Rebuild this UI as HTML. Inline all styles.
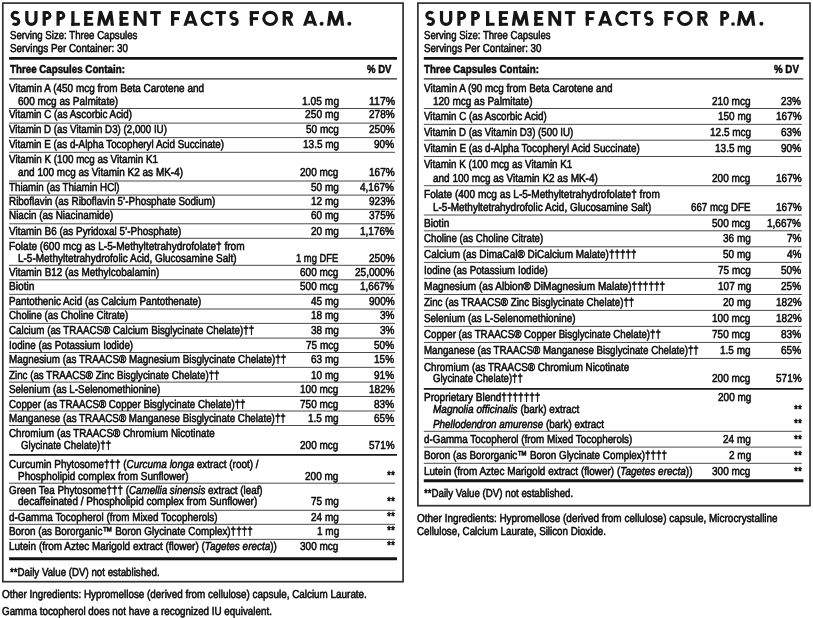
<!DOCTYPE html>
<html lang="en"><head><meta charset="utf-8"><title>Supplement Facts</title>
<style>
html,body{margin:0;padding:0;background:#fff;}
body{width:813px;height:618px;position:relative;overflow:hidden;font-family:"Liberation Sans",sans-serif;color:#0a0a0a;text-rendering:geometricPrecision;filter:grayscale(1);}
svg{position:absolute;left:0;top:0;}
span{position:absolute;white-space:nowrap;line-height:1;display:block;transform-origin:0 0;}
.n,.a{font-size:11.5px;-webkit-text-stroke:0.55px #0a0a0a;}
.b{font-size:11.5px;font-weight:bold;-webkit-text-stroke:0.5px #0a0a0a;}
.t{font-size:20.3px;font-weight:bold;color:#181818;-webkit-text-stroke:0.6px #181818;}
i{font-style:italic;}
</style></head><body>
<svg width="813" height="618" viewBox="0 0 813 618">
<rect x="2.8" y="3.1" width="400.30" height="578.60" fill="none" stroke="#303030" stroke-width="1.7"/>
<rect x="417.9" y="3.1" width="392.10" height="502.60" fill="none" stroke="#303030" stroke-width="1.7"/>
<line x1="9.1" y1="58.45" x2="397.0" y2="58.45" stroke="#0e1612" stroke-width="2.75"/>
<line x1="9.1" y1="78.8" x2="397.0" y2="78.8" stroke="#222" stroke-width="1.3"/>
<line x1="9.1" y1="108.5" x2="395.1" y2="108.5" stroke="#4a4a4a" stroke-width="1.0"/>
<line x1="9.1" y1="123.1" x2="395.1" y2="123.1" stroke="#4a4a4a" stroke-width="1.0"/>
<line x1="9.1" y1="137.6" x2="395.1" y2="137.6" stroke="#4a4a4a" stroke-width="1.0"/>
<line x1="9.1" y1="152.3" x2="395.1" y2="152.3" stroke="#4a4a4a" stroke-width="1.0"/>
<line x1="9.1" y1="181.0" x2="395.1" y2="181.0" stroke="#4a4a4a" stroke-width="1.0"/>
<line x1="9.1" y1="195.1" x2="395.1" y2="195.1" stroke="#4a4a4a" stroke-width="1.0"/>
<line x1="9.1" y1="209.3" x2="395.1" y2="209.3" stroke="#4a4a4a" stroke-width="1.0"/>
<line x1="9.1" y1="223.8" x2="395.1" y2="223.8" stroke="#4a4a4a" stroke-width="1.0"/>
<line x1="9.1" y1="238.3" x2="395.1" y2="238.3" stroke="#4a4a4a" stroke-width="1.0"/>
<line x1="9.1" y1="265.3" x2="395.1" y2="265.3" stroke="#4a4a4a" stroke-width="1.0"/>
<line x1="9.1" y1="279.8" x2="395.1" y2="279.8" stroke="#4a4a4a" stroke-width="1.0"/>
<line x1="9.1" y1="294.3" x2="395.1" y2="294.3" stroke="#4a4a4a" stroke-width="1.0"/>
<line x1="9.1" y1="309.0" x2="395.1" y2="309.0" stroke="#4a4a4a" stroke-width="1.0"/>
<line x1="9.1" y1="323.4" x2="395.1" y2="323.4" stroke="#4a4a4a" stroke-width="1.0"/>
<line x1="9.1" y1="338.1" x2="395.1" y2="338.1" stroke="#4a4a4a" stroke-width="1.0"/>
<line x1="9.1" y1="352.5" x2="395.1" y2="352.5" stroke="#4a4a4a" stroke-width="1.0"/>
<line x1="9.1" y1="367.35" x2="395.1" y2="367.35" stroke="#4a4a4a" stroke-width="1.0"/>
<line x1="9.1" y1="382.1" x2="395.1" y2="382.1" stroke="#4a4a4a" stroke-width="1.0"/>
<line x1="9.1" y1="396.5" x2="395.1" y2="396.5" stroke="#4a4a4a" stroke-width="1.0"/>
<line x1="9.1" y1="411.0" x2="395.1" y2="411.0" stroke="#4a4a4a" stroke-width="1.0"/>
<line x1="9.1" y1="425.5" x2="395.1" y2="425.5" stroke="#4a4a4a" stroke-width="1.0"/>
<line x1="9.1" y1="454.8" x2="397.0" y2="454.8" stroke="#1a1a1a" stroke-width="1.7"/>
<line x1="9.1" y1="483.2" x2="395.1" y2="483.2" stroke="#4a4a4a" stroke-width="1.0"/>
<line x1="9.1" y1="510.3" x2="395.1" y2="510.3" stroke="#4a4a4a" stroke-width="1.0"/>
<line x1="9.1" y1="524.3" x2="395.1" y2="524.3" stroke="#4a4a4a" stroke-width="1.0"/>
<line x1="9.1" y1="539.35" x2="395.1" y2="539.35" stroke="#4a4a4a" stroke-width="1.0"/>
<line x1="9.1" y1="558.7" x2="397.0" y2="558.7" stroke="#0e1612" stroke-width="3.0"/>
<line x1="423.8" y1="58.45" x2="803.4" y2="58.45" stroke="#0e1612" stroke-width="2.75"/>
<line x1="423.8" y1="78.8" x2="803.4" y2="78.8" stroke="#222" stroke-width="1.3"/>
<line x1="423.8" y1="108.5" x2="801.8" y2="108.5" stroke="#4a4a4a" stroke-width="1.0"/>
<line x1="423.8" y1="124.35" x2="801.8" y2="124.35" stroke="#4a4a4a" stroke-width="1.0"/>
<line x1="423.8" y1="140.2" x2="801.8" y2="140.2" stroke="#4a4a4a" stroke-width="1.0"/>
<line x1="423.8" y1="156.5" x2="801.8" y2="156.5" stroke="#4a4a4a" stroke-width="1.0"/>
<line x1="423.8" y1="185.7" x2="801.8" y2="185.7" stroke="#4a4a4a" stroke-width="1.0"/>
<line x1="423.8" y1="215.0" x2="801.8" y2="215.0" stroke="#4a4a4a" stroke-width="1.0"/>
<line x1="423.8" y1="230.8" x2="801.8" y2="230.8" stroke="#4a4a4a" stroke-width="1.0"/>
<line x1="423.8" y1="246.8" x2="801.8" y2="246.8" stroke="#4a4a4a" stroke-width="1.0"/>
<line x1="423.8" y1="262.4" x2="801.8" y2="262.4" stroke="#4a4a4a" stroke-width="1.0"/>
<line x1="423.8" y1="278.4" x2="801.8" y2="278.4" stroke="#4a4a4a" stroke-width="1.0"/>
<line x1="423.8" y1="294.5" x2="801.8" y2="294.5" stroke="#4a4a4a" stroke-width="1.0"/>
<line x1="423.8" y1="310.4" x2="801.8" y2="310.4" stroke="#4a4a4a" stroke-width="1.0"/>
<line x1="423.8" y1="326.4" x2="801.8" y2="326.4" stroke="#4a4a4a" stroke-width="1.0"/>
<line x1="423.8" y1="342.45" x2="801.8" y2="342.45" stroke="#4a4a4a" stroke-width="1.0"/>
<line x1="423.8" y1="358.45" x2="801.8" y2="358.45" stroke="#4a4a4a" stroke-width="1.0"/>
<line x1="423.8" y1="388.9" x2="803.4" y2="388.9" stroke="#1a1a1a" stroke-width="1.7"/>
<line x1="423.8" y1="431.3" x2="801.8" y2="431.3" stroke="#4a4a4a" stroke-width="1.0"/>
<line x1="423.8" y1="447.1" x2="801.8" y2="447.1" stroke="#4a4a4a" stroke-width="1.0"/>
<line x1="423.8" y1="463.3" x2="801.8" y2="463.3" stroke="#4a4a4a" stroke-width="1.0"/>
<line x1="423.8" y1="480.75" x2="803.4" y2="480.75" stroke="#0e1612" stroke-width="3.0"/>
<clipPath id="tc"><rect x="0" y="11.10" width="813" height="14.65"/></clipPath>
<g fill="#161616">
<path d="M18.25,13.50 A3.43,3.05 0 0 0 15.55,12.32 A3.43,3.05 0 0 0 15.55,18.43 A3.43,3.05 0 0 1 15.55,24.52 A3.43,3.05 0 0 1 12.85,23.35" fill="none" stroke="#161616" stroke-width="3.10" stroke-linejoin="round" stroke-miterlimit="12"/>
<path d="M26.82,11.10 V19.80 A4.58,4.58 0 0 0 35.98,19.80 V11.10" fill="none" stroke="#161616" stroke-width="3.25" stroke-linejoin="miter" stroke-miterlimit="12"/>
<rect x="42.60" y="11.10" width="3.25" height="14.65"/><path d="M44.23,12.57 H47.10 A2.92,2.92 0 0 1 47.10,18.41 H44.23" fill="none" stroke="#161616" stroke-width="2.95" stroke-linejoin="miter" stroke-miterlimit="12"/>
<rect x="56.50" y="11.10" width="3.25" height="14.65"/><path d="M58.12,12.57 H60.90 A2.92,2.92 0 0 1 60.90,18.41 H58.12" fill="none" stroke="#161616" stroke-width="2.95" stroke-linejoin="miter" stroke-miterlimit="12"/>
<rect x="71.30" y="11.10" width="3.25" height="14.65"/><rect x="71.30" y="22.80" width="8.60" height="2.95"/>
<rect x="84.20" y="11.10" width="3.25" height="14.65"/><rect x="84.20" y="11.10" width="9.10" height="2.95"/><rect x="84.20" y="22.80" width="9.10" height="2.95"/><rect x="84.20" y="16.95" width="8.20" height="2.95"/>
<path d="M98.62,26.75 L100.53,11.70 L105.60,25.45 L110.67,11.70 L112.58,26.75" fill="none" stroke="#161616" stroke-width="3.25" stroke-linejoin="miter" stroke-miterlimit="12" clip-path="url(#tc)"/>
<rect x="119.60" y="11.10" width="3.25" height="14.65"/><rect x="119.60" y="11.10" width="9.00" height="2.95"/><rect x="119.60" y="22.80" width="9.00" height="2.95"/><rect x="119.60" y="16.95" width="8.10" height="2.95"/>
<rect x="133.70" y="11.10" width="3.25" height="14.65"/><rect x="143.25" y="11.10" width="3.25" height="14.65"/><path d="M133.70,11.10 L137.40,11.10 L146.50,25.75 L142.80,25.75 Z"/>
<rect x="150.20" y="11.10" width="10.60" height="2.95"/><rect x="153.88" y="11.10" width="3.25" height="14.65"/>
<rect x="171.00" y="11.10" width="3.25" height="14.65"/><rect x="171.00" y="11.10" width="9.00" height="2.95"/><rect x="171.00" y="17.15" width="8.00" height="2.95"/>
<path d="M184.65,26.95 L190.50,10.50 L196.35,26.95" fill="none" stroke="#161616" stroke-width="3.25" stroke-linejoin="miter" stroke-miterlimit="12" clip-path="url(#tc)"/><rect x="186.76" y="20.77" width="7.49" height="2.80"/>
<path d="M212.60,14.28 A6.10,6.10 0 1 0 212.60,22.57" fill="none" stroke="#161616" stroke-width="3.10" stroke-linejoin="miter" stroke-miterlimit="12"/>
<rect x="215.40" y="11.10" width="10.50" height="2.95"/><rect x="219.03" y="11.10" width="3.25" height="14.65"/>
<path d="M236.68,13.50 A3.28,3.05 0 0 0 234.10,12.32 A3.28,3.05 0 0 0 234.10,18.43 A3.28,3.05 0 0 1 234.10,24.52 A3.28,3.05 0 0 1 231.52,23.35" fill="none" stroke="#161616" stroke-width="3.10" stroke-linejoin="round" stroke-miterlimit="12"/>
<rect x="249.80" y="11.10" width="3.25" height="14.65"/><rect x="249.80" y="11.10" width="9.20" height="2.95"/><rect x="249.80" y="17.15" width="8.20" height="2.95"/>
<ellipse cx="270.20" cy="18.43" rx="6.38" ry="6.10" fill="none" stroke="#161616" stroke-width="3.10"/>
<rect x="282.65" y="11.10" width="3.25" height="14.65"/><path d="M284.27,12.57 H288.86 A2.66,2.66 0 0 1 288.86,17.90 H284.27" fill="none" stroke="#161616" stroke-width="2.95" stroke-linejoin="miter" stroke-miterlimit="12"/><path d="M287.66,17.30 L292.40,26.95" fill="none" stroke="#161616" stroke-width="3.25" stroke-linejoin="miter" stroke-miterlimit="12" clip-path="url(#tc)"/>
<path d="M304.25,26.95 L310.10,10.50 L315.95,26.95" fill="none" stroke="#161616" stroke-width="3.25" stroke-linejoin="miter" stroke-miterlimit="12" clip-path="url(#tc)"/><rect x="306.36" y="20.77" width="7.49" height="2.80"/>
<circle cx="321.60" cy="23.85" r="2.00"/>
<path d="M328.53,26.75 L330.43,11.70 L335.60,25.45 L340.78,11.70 L342.68,26.75" fill="none" stroke="#161616" stroke-width="3.25" stroke-linejoin="miter" stroke-miterlimit="12" clip-path="url(#tc)"/>
<circle cx="349.30" cy="23.85" r="2.00"/>
<path d="M432.95,13.50 A3.43,3.05 0 0 0 430.25,12.32 A3.43,3.05 0 0 0 430.25,18.43 A3.43,3.05 0 0 1 430.25,24.52 A3.43,3.05 0 0 1 427.55,23.35" fill="none" stroke="#161616" stroke-width="3.10" stroke-linejoin="round" stroke-miterlimit="12"/>
<path d="M441.52,11.10 V19.80 A4.58,4.58 0 0 0 450.68,19.80 V11.10" fill="none" stroke="#161616" stroke-width="3.25" stroke-linejoin="miter" stroke-miterlimit="12"/>
<rect x="457.30" y="11.10" width="3.25" height="14.65"/><path d="M458.93,12.57 H461.80 A2.92,2.92 0 0 1 461.80,18.41 H458.93" fill="none" stroke="#161616" stroke-width="2.95" stroke-linejoin="miter" stroke-miterlimit="12"/>
<rect x="471.20" y="11.10" width="3.25" height="14.65"/><path d="M472.82,12.57 H475.60 A2.92,2.92 0 0 1 475.60,18.41 H472.82" fill="none" stroke="#161616" stroke-width="2.95" stroke-linejoin="miter" stroke-miterlimit="12"/>
<rect x="486.00" y="11.10" width="3.25" height="14.65"/><rect x="486.00" y="22.80" width="8.60" height="2.95"/>
<rect x="498.90" y="11.10" width="3.25" height="14.65"/><rect x="498.90" y="11.10" width="9.10" height="2.95"/><rect x="498.90" y="22.80" width="9.10" height="2.95"/><rect x="498.90" y="16.95" width="8.20" height="2.95"/>
<path d="M513.32,26.75 L515.23,11.70 L520.30,25.45 L525.38,11.70 L527.28,26.75" fill="none" stroke="#161616" stroke-width="3.25" stroke-linejoin="miter" stroke-miterlimit="12" clip-path="url(#tc)"/>
<rect x="534.30" y="11.10" width="3.25" height="14.65"/><rect x="534.30" y="11.10" width="9.00" height="2.95"/><rect x="534.30" y="22.80" width="9.00" height="2.95"/><rect x="534.30" y="16.95" width="8.10" height="2.95"/>
<rect x="548.40" y="11.10" width="3.25" height="14.65"/><rect x="557.95" y="11.10" width="3.25" height="14.65"/><path d="M548.40,11.10 L552.10,11.10 L561.20,25.75 L557.50,25.75 Z"/>
<rect x="564.90" y="11.10" width="10.60" height="2.95"/><rect x="568.58" y="11.10" width="3.25" height="14.65"/>
<rect x="585.70" y="11.10" width="3.25" height="14.65"/><rect x="585.70" y="11.10" width="9.00" height="2.95"/><rect x="585.70" y="17.15" width="8.00" height="2.95"/>
<path d="M599.35,26.95 L605.20,10.50 L611.05,26.95" fill="none" stroke="#161616" stroke-width="3.25" stroke-linejoin="miter" stroke-miterlimit="12" clip-path="url(#tc)"/><rect x="601.46" y="20.77" width="7.49" height="2.80"/>
<path d="M627.30,14.28 A6.10,6.10 0 1 0 627.30,22.57" fill="none" stroke="#161616" stroke-width="3.10" stroke-linejoin="miter" stroke-miterlimit="12"/>
<rect x="630.10" y="11.10" width="10.50" height="2.95"/><rect x="633.73" y="11.10" width="3.25" height="14.65"/>
<path d="M651.38,13.50 A3.28,3.05 0 0 0 648.80,12.32 A3.28,3.05 0 0 0 648.80,18.43 A3.28,3.05 0 0 1 648.80,24.52 A3.28,3.05 0 0 1 646.22,23.35" fill="none" stroke="#161616" stroke-width="3.10" stroke-linejoin="round" stroke-miterlimit="12"/>
<rect x="664.50" y="11.10" width="3.25" height="14.65"/><rect x="664.50" y="11.10" width="9.20" height="2.95"/><rect x="664.50" y="17.15" width="8.20" height="2.95"/>
<ellipse cx="684.90" cy="18.43" rx="6.38" ry="6.10" fill="none" stroke="#161616" stroke-width="3.10"/>
<rect x="697.35" y="11.10" width="3.25" height="14.65"/><path d="M698.97,12.57 H703.56 A2.66,2.66 0 0 1 703.56,17.90 H698.97" fill="none" stroke="#161616" stroke-width="2.95" stroke-linejoin="miter" stroke-miterlimit="12"/><path d="M702.36,17.30 L707.10,26.95" fill="none" stroke="#161616" stroke-width="3.25" stroke-linejoin="miter" stroke-miterlimit="12" clip-path="url(#tc)"/>
<rect x="720.30" y="11.10" width="3.25" height="14.65"/><path d="M721.92,12.57 H724.90 A2.92,2.92 0 0 1 724.90,18.41 H721.92" fill="none" stroke="#161616" stroke-width="2.95" stroke-linejoin="miter" stroke-miterlimit="12"/>
<circle cx="733.05" cy="24.00" r="1.85"/>
<path d="M738.52,26.75 L740.43,11.70 L746.15,25.45 L751.88,11.70 L753.78,26.75" fill="none" stroke="#161616" stroke-width="3.25" stroke-linejoin="miter" stroke-miterlimit="12" clip-path="url(#tc)"/>
<circle cx="761.40" cy="23.85" r="2.00"/>
</g>
</svg>
<span class="n" style="top:31px;left:9.60px;transform:scaleX(0.8382);">Serving Size: Three Capsules</span>
<span class="n" style="top:44px;left:9.60px;transform:scaleX(0.8543);">Servings Per Container: 30</span>
<span class="b" style="top:65px;left:9.50px;transform:scaleX(0.8481);">Three Capsules Contain:</span>
<span class="b" style="top:65px;left:367.20px;transform:scaleX(0.8300);">% DV</span>
<span class="n" style="top:84px;left:9.00px;transform:scaleX(0.8676);">Vitamin A (450 mcg from Beta Carotene and</span>
<span class="n" style="top:97px;left:17.70px;transform:scaleX(0.8754);">600 mcg as Palmitate)</span>
<span class="a" style="top:97px;left:301.80px;transform:scaleX(0.8927);">1.05 mg</span>
<span class="a" style="top:97px;left:368.70px;transform:scaleX(0.9143);">117%</span>
<span class="n" style="top:110px;left:9.00px;transform:scaleX(0.8524);">Vitamin C (as Ascorbic Acid)</span>
<span class="a" style="top:110px;left:304.60px;transform:scaleX(0.8895);">250 mg</span>
<span class="a" style="top:110px;left:369.06px;transform:scaleX(0.8704);">278%</span>
<span class="n" style="top:125px;left:9.00px;transform:scaleX(0.8481);">Vitamin D (as Vitamin D3) (2,000 IU)</span>
<span class="a" style="top:125px;left:306.20px;transform:scaleX(0.8704);">50 mcg</span>
<span class="a" style="top:125px;left:369.06px;transform:scaleX(0.8704);">250%</span>
<span class="n" style="top:140px;left:9.00px;transform:scaleX(0.8532);">Vitamin E (as d-Alpha Tocopheryl Acid Succinate)</span>
<span class="a" style="top:140px;left:302.71px;transform:scaleX(0.8704);">13.5 mg</span>
<span class="a" style="top:140px;left:374.28px;transform:scaleX(0.8704);">90%</span>
<span class="n" style="top:155px;left:9.00px;transform:scaleX(0.8563);">Vitamin K (100 mcg as Vitamin K1</span>
<span class="n" style="top:168px;left:17.70px;transform:scaleX(0.8674);">and 100 mcg as Vitamin K2 as MK-4)</span>
<span class="a" style="top:168px;left:300.10px;transform:scaleX(0.8704);">200 mcg</span>
<span class="a" style="top:168px;left:369.06px;transform:scaleX(0.8704);">167%</span>
<span class="n" style="top:183px;left:9.00px;transform:scaleX(0.8500);">Thiamin (as Thiamin HCl)</span>
<span class="a" style="top:183px;left:310.55px;transform:scaleX(0.8704);">50 mg</span>
<span class="a" style="top:183px;left:360.35px;transform:scaleX(0.8704);">4,167%</span>
<span class="n" style="top:197px;left:9.00px;transform:scaleX(0.8583);">Riboflavin (as Riboflavin 5’-Phosphate Sodium)</span>
<span class="a" style="top:197px;left:310.55px;transform:scaleX(0.8704);">12 mg</span>
<span class="a" style="top:197px;left:369.06px;transform:scaleX(0.8704);">923%</span>
<span class="n" style="top:211px;left:9.00px;transform:scaleX(0.8595);">Niacin (as Niacinamide)</span>
<span class="a" style="top:211px;left:310.55px;transform:scaleX(0.8704);">60 mg</span>
<span class="a" style="top:211px;left:369.06px;transform:scaleX(0.8704);">375%</span>
<span class="n" style="top:227px;left:9.00px;transform:scaleX(0.8618);">Vitamin B6 (as Pyridoxal 5’-Phosphate)</span>
<span class="a" style="top:227px;left:310.55px;transform:scaleX(0.8704);">20 mg</span>
<span class="a" style="top:227px;left:360.35px;transform:scaleX(0.8704);">1,176%</span>
<span class="n" style="top:242px;left:9.00px;transform:scaleX(0.8776);">Folate (600 mcg as L-5-Methyltetrahydrofolate† from</span>
<span class="n" style="top:254px;left:17.70px;transform:scaleX(0.8677);">L-5-Methyltetrahydrofolic Acid, Glucosamine Salt)</span>
<span class="a" style="top:254px;left:296.00px;transform:scaleX(0.8154);">1 mg DFE</span>
<span class="a" style="top:254px;left:369.06px;transform:scaleX(0.8704);">250%</span>
<span class="n" style="top:268px;left:9.00px;transform:scaleX(0.8621);">Vitamin B12 (as Methylcobalamin)</span>
<span class="a" style="top:268px;left:300.10px;transform:scaleX(0.8704);">600 mcg</span>
<span class="a" style="top:268px;left:355.13px;transform:scaleX(0.8704);">25,000%</span>
<span class="n" style="top:282px;left:9.00px;transform:scaleX(0.8839);">Biotin</span>
<span class="a" style="top:282px;left:300.10px;transform:scaleX(0.8704);">500 mcg</span>
<span class="a" style="top:282px;left:360.35px;transform:scaleX(0.8704);">1,667%</span>
<span class="n" style="top:297px;left:9.00px;transform:scaleX(0.8542);">Pantothenic Acid (as Calcium Pantothenate)</span>
<span class="a" style="top:297px;left:310.55px;transform:scaleX(0.8704);">45 mg</span>
<span class="a" style="top:297px;left:369.06px;transform:scaleX(0.8704);">900%</span>
<span class="n" style="top:311px;left:9.00px;transform:scaleX(0.8440);">Choline (as Choline Citrate)</span>
<span class="a" style="top:311px;left:310.55px;transform:scaleX(0.8704);">18 mg</span>
<span class="a" style="top:311px;left:379.50px;transform:scaleX(0.8704);">3%</span>
<span class="n" style="top:326px;left:9.00px;transform:scaleX(0.8526);">Calcium (as TRAACS® Calcium Bisglycinate Chelate)††</span>
<span class="a" style="top:326px;left:310.55px;transform:scaleX(0.8704);">38 mg</span>
<span class="a" style="top:326px;left:379.50px;transform:scaleX(0.8704);">3%</span>
<span class="n" style="top:341px;left:9.00px;transform:scaleX(0.8517);">Iodine (as Potassium Iodide)</span>
<span class="a" style="top:341px;left:306.20px;transform:scaleX(0.8704);">75 mcg</span>
<span class="a" style="top:341px;left:374.28px;transform:scaleX(0.8704);">50%</span>
<span class="n" style="top:355px;left:9.00px;transform:scaleX(0.8576);">Magnesium (as TRAACS® Magnesium Bisglycinate Chelate)††</span>
<span class="a" style="top:355px;left:310.55px;transform:scaleX(0.8704);">63 mg</span>
<span class="a" style="top:355px;left:374.28px;transform:scaleX(0.8704);">15%</span>
<span class="n" style="top:371px;left:9.00px;transform:scaleX(0.8490);">Zinc (as TRAACS® Zinc Bisglycinate Chelate)††</span>
<span class="a" style="top:371px;left:310.55px;transform:scaleX(0.8704);">10 mg</span>
<span class="a" style="top:371px;left:374.28px;transform:scaleX(0.8704);">91%</span>
<span class="n" style="top:385px;left:9.00px;transform:scaleX(0.8580);">Selenium (as L-Selenomethionine)</span>
<span class="a" style="top:385px;left:300.10px;transform:scaleX(0.8704);">100 mcg</span>
<span class="a" style="top:385px;left:369.06px;transform:scaleX(0.8704);">182%</span>
<span class="n" style="top:400px;left:9.00px;transform:scaleX(0.8448);">Copper (as TRAACS® Copper Bisglycinate Chelate)††</span>
<span class="a" style="top:400px;left:300.10px;transform:scaleX(0.8704);">750 mcg</span>
<span class="a" style="top:400px;left:374.28px;transform:scaleX(0.8704);">83%</span>
<span class="n" style="top:414px;left:9.00px;transform:scaleX(0.8525);">Manganese (as TRAACS® Manganese Bisglycinate Chelate)††</span>
<span class="a" style="top:414px;left:307.94px;transform:scaleX(0.8704);">1.5 mg</span>
<span class="a" style="top:414px;left:374.28px;transform:scaleX(0.8704);">65%</span>
<span class="n" style="top:429px;left:9.00px;transform:scaleX(0.8535);">Chromium (as TRAACS® Chromium Nicotinate</span>
<span class="n" style="top:441px;left:21.30px;transform:scaleX(0.8383);">Glycinate Chelate)††</span>
<span class="a" style="top:441px;left:300.10px;transform:scaleX(0.8704);">200 mcg</span>
<span class="a" style="top:441px;left:369.06px;transform:scaleX(0.8704);">571%</span>
<span class="n" style="top:460px;left:9.00px;transform:scaleX(0.8637);">Curcumin Phytosome††† (<i>Curcuma longa</i> extract (root) /</span>
<span class="n" style="top:472px;left:17.70px;transform:scaleX(0.8689);">Phospholipid complex from Sunflower)</span>
<span class="a" style="top:472px;left:305.32px;transform:scaleX(0.8704);">200 mg</span>
<span class="a" style="top:471px;left:386.87px;transform:scaleX(0.8704);">**</span>
<span class="n" style="top:486px;left:9.00px;transform:scaleX(0.8539);">Green Tea Phytosome††† (<i>Camellia sinensis</i> extract (leaf)</span>
<span class="n" style="top:497px;left:18.10px;transform:scaleX(0.8712);">decaffeinated / Phospholipid complex from Sunflower)</span>
<span class="a" style="top:497px;left:310.55px;transform:scaleX(0.8704);">75 mg</span>
<span class="a" style="top:497px;left:386.87px;transform:scaleX(0.8704);">**</span>
<span class="n" style="top:513px;left:9.00px;transform:scaleX(0.8580);">d-Gamma Tocopherol (from Mixed Tocopherols)</span>
<span class="a" style="top:513px;left:310.55px;transform:scaleX(0.8704);">24 mg</span>
<span class="a" style="top:512px;left:386.87px;transform:scaleX(0.8704);">**</span>
<span class="n" style="top:527px;left:9.00px;transform:scaleX(0.8604);">Boron (as Bororganic™ Boron Glycinate Complex)††††</span>
<span class="a" style="top:527px;left:316.64px;transform:scaleX(0.8704);">1 mg</span>
<span class="a" style="top:526px;left:386.87px;transform:scaleX(0.8704);">**</span>
<span class="n" style="top:542px;left:9.00px;transform:scaleX(0.8654);">Lutein (from Aztec Marigold extract (flower) (<i>Tagetes erecta</i>))</span>
<span class="a" style="top:542px;left:300.10px;transform:scaleX(0.8704);">300 mcg</span>
<span class="a" style="top:541px;left:386.87px;transform:scaleX(0.8704);">**</span>
<span class="n" style="top:568px;left:9.50px;transform:scaleX(0.8460);">**Daily Value (DV) not established.</span>
<span class="n" style="top:590px;left:2.00px;transform:scaleX(0.8597);">Other Ingredients: Hypromellose (derived from cellulose) capsule, Calcium Laurate.</span>
<span class="n" style="top:607px;left:2.00px;transform:scaleX(0.8546);">Gamma tocopherol does not have a recognized IU equivalent.</span>
<span class="n" style="top:31px;left:424.20px;transform:scaleX(0.8329);">Serving Size: Three Capsules</span>
<span class="n" style="top:44px;left:424.20px;transform:scaleX(0.8507);">Servings Per Container: 30</span>
<span class="b" style="top:65px;left:424.20px;transform:scaleX(0.8489);">Three Capsules Contain:</span>
<span class="b" style="top:65px;left:773.70px;transform:scaleX(0.8467);">% DV</span>
<span class="n" style="top:84px;left:423.80px;transform:scaleX(0.8633);">Vitamin A (90 mcg from Beta Carotene and</span>
<span class="n" style="top:97px;left:432.50px;transform:scaleX(0.8693);">120 mcg as Palmitate)</span>
<span class="a" style="top:97px;left:712.10px;transform:scaleX(0.8750);">210 mcg</span>
<span class="a" style="top:97px;left:781.40px;transform:scaleX(0.8652);">23%</span>
<span class="n" style="top:112px;left:423.80px;transform:scaleX(0.8507);">Vitamin C (as Ascorbic Acid)</span>
<span class="a" style="top:112px;left:717.70px;transform:scaleX(0.8658);">150 mg</span>
<span class="a" style="top:112px;left:776.06px;transform:scaleX(0.8704);">167%</span>
<span class="n" style="top:128px;left:423.80px;transform:scaleX(0.8449);">Vitamin D (as Vitamin D3) (500 IU)</span>
<span class="a" style="top:128px;left:709.69px;transform:scaleX(0.8704);">12.5 mcg</span>
<span class="a" style="top:128px;left:781.28px;transform:scaleX(0.8704);">63%</span>
<span class="n" style="top:144px;left:423.80px;transform:scaleX(0.8563);">Vitamin E (as d-Alpha Tocopheryl Acid Succinate)</span>
<span class="a" style="top:144px;left:714.91px;transform:scaleX(0.8704);">13.5 mg</span>
<span class="a" style="top:144px;left:781.28px;transform:scaleX(0.8704);">90%</span>
<span class="n" style="top:160px;left:423.80px;transform:scaleX(0.8517);">Vitamin K (100 mcg as Vitamin K1</span>
<span class="n" style="top:174px;left:432.50px;transform:scaleX(0.8658);">and 100 mcg as Vitamin K2 as MK-4)</span>
<span class="a" style="top:174px;left:712.30px;transform:scaleX(0.8704);">200 mcg</span>
<span class="a" style="top:174px;left:776.06px;transform:scaleX(0.8704);">167%</span>
<span class="n" style="top:190px;left:423.80px;transform:scaleX(0.8784);">Folate (400 mcg as L-5-Methyltetrahydrofolate† from</span>
<span class="n" style="top:203px;left:432.50px;transform:scaleX(0.8673);">L-5-Methyltetrahydrofolic Acid, Glucosamine Salt)</span>
<span class="a" style="top:203px;left:691.40px;transform:scaleX(0.8457);">667 mcg DFE</span>
<span class="a" style="top:203px;left:776.06px;transform:scaleX(0.8704);">167%</span>
<span class="n" style="top:219px;left:423.80px;transform:scaleX(0.8786);">Biotin</span>
<span class="a" style="top:219px;left:712.30px;transform:scaleX(0.8704);">500 mcg</span>
<span class="a" style="top:219px;left:767.35px;transform:scaleX(0.8704);">1,667%</span>
<span class="n" style="top:234px;left:423.80px;transform:scaleX(0.8440);">Choline (as Choline Citrate)</span>
<span class="a" style="top:234px;left:722.75px;transform:scaleX(0.8704);">36 mg</span>
<span class="a" style="top:234px;left:786.50px;transform:scaleX(0.8704);">7%</span>
<span class="n" style="top:250px;left:423.80px;transform:scaleX(0.8657);">Calcium (as DimaCal® DiCalcium Malate)†††††</span>
<span class="a" style="top:250px;left:722.75px;transform:scaleX(0.8704);">50 mg</span>
<span class="a" style="top:250px;left:786.50px;transform:scaleX(0.8704);">4%</span>
<span class="n" style="top:266px;left:423.80px;transform:scaleX(0.8497);">Iodine (as Potassium Iodide)</span>
<span class="a" style="top:266px;left:718.40px;transform:scaleX(0.8704);">75 mcg</span>
<span class="a" style="top:266px;left:781.28px;transform:scaleX(0.8704);">50%</span>
<span class="n" style="top:282px;left:423.80px;transform:scaleX(0.8771);">Magnesium (as Albion® DiMagnesium Malate)††††††</span>
<span class="a" style="top:282px;left:717.53px;transform:scaleX(0.8704);">107 mg</span>
<span class="a" style="top:282px;left:781.28px;transform:scaleX(0.8704);">25%</span>
<span class="n" style="top:298px;left:423.80px;transform:scaleX(0.8482);">Zinc (as TRAACS® Zinc Bisglycinate Chelate)††</span>
<span class="a" style="top:298px;left:722.75px;transform:scaleX(0.8704);">20 mg</span>
<span class="a" style="top:298px;left:776.06px;transform:scaleX(0.8704);">182%</span>
<span class="n" style="top:314px;left:423.80px;transform:scaleX(0.8591);">Selenium (as L-Selenomethionine)</span>
<span class="a" style="top:314px;left:712.30px;transform:scaleX(0.8704);">100 mcg</span>
<span class="a" style="top:314px;left:776.06px;transform:scaleX(0.8704);">182%</span>
<span class="n" style="top:330px;left:423.80px;transform:scaleX(0.8462);">Copper (as TRAACS® Copper Bisglycinate Chelate)††</span>
<span class="a" style="top:330px;left:712.30px;transform:scaleX(0.8704);">750 mcg</span>
<span class="a" style="top:330px;left:781.28px;transform:scaleX(0.8704);">83%</span>
<span class="n" style="top:346px;left:423.80px;transform:scaleX(0.8463);">Manganese (as TRAACS® Manganese Bisglycinate Chelate)††</span>
<span class="a" style="top:346px;left:720.14px;transform:scaleX(0.8704);">1.5 mg</span>
<span class="a" style="top:346px;left:781.28px;transform:scaleX(0.8704);">65%</span>
<span class="n" style="top:363px;left:423.80px;transform:scaleX(0.8515);">Chromium (as TRAACS® Chromium Nicotinate</span>
<span class="n" style="top:374px;left:432.50px;transform:scaleX(0.8364);">Glycinate Chelate)††</span>
<span class="a" style="top:374px;left:712.30px;transform:scaleX(0.8704);">200 mcg</span>
<span class="a" style="top:374px;left:776.06px;transform:scaleX(0.8704);">571%</span>
<span class="n" style="top:393px;left:423.80px;transform:scaleX(0.8707);">Proprietary Blend†††††††</span>
<span class="a" style="top:393px;left:717.53px;transform:scaleX(0.8704);">200 mg</span>
<span class="n" style="top:405px;left:432.50px;transform:scaleX(0.8708);"><i>Magnolia officinalis</i> (bark) extract</span>
<span class="a" style="top:405px;left:793.87px;transform:scaleX(0.8704);">**</span>
<span class="n" style="top:420px;left:432.50px;transform:scaleX(0.8575);"><i>Phellodendron amurense</i> (bark) extract</span>
<span class="a" style="top:419px;left:793.87px;transform:scaleX(0.8704);">**</span>
<span class="n" style="top:435px;left:423.80px;transform:scaleX(0.8568);">d-Gamma Tocopherol (from Mixed Tocopherols)</span>
<span class="a" style="top:435px;left:722.75px;transform:scaleX(0.8704);">24 mg</span>
<span class="a" style="top:435px;left:793.87px;transform:scaleX(0.8704);">**</span>
<span class="n" style="top:451px;left:423.80px;transform:scaleX(0.8583);">Boron (as Bororganic™ Boron Glycinate Complex)††††</span>
<span class="a" style="top:451px;left:728.84px;transform:scaleX(0.8704);">2 mg</span>
<span class="a" style="top:451px;left:793.87px;transform:scaleX(0.8704);">**</span>
<span class="n" style="top:467px;left:423.80px;transform:scaleX(0.8673);">Lutein (from Aztec Marigold extract (flower) (<i>Tagetes erecta</i>))</span>
<span class="a" style="top:467px;left:712.30px;transform:scaleX(0.8704);">300 mcg</span>
<span class="a" style="top:467px;left:793.87px;transform:scaleX(0.8704);">**</span>
<span class="n" style="top:489px;left:424.30px;transform:scaleX(0.8437);">**Daily Value (DV) not established.</span>
<span class="n" style="top:514px;left:417.10px;transform:scaleX(0.8654);">Other Ingredients: Hypromellose (derived from cellulose) capsule, Microcrystalline</span>
<span class="n" style="top:527px;left:417.10px;transform:scaleX(0.8495);">Cellulose, Calcium Laurate, Silicon Dioxide.</span>
</body></html>
